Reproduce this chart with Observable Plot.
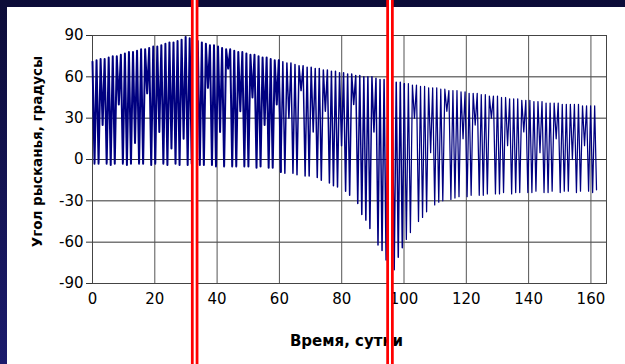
<!DOCTYPE html>
<html><head><meta charset="utf-8">
<script src="https://cdn.jsdelivr.net/npm/d3@7"></script>
<script src="https://cdn.jsdelivr.net/npm/@observablehq/plot@0.6"></script>
<style>
html,body{margin:0;padding:0;}
body{width:625px;height:364px;overflow:hidden;position:relative;background:linear-gradient(#0c0c38,#1b1b6c);}
#panel{position:absolute;left:7px;top:7px;right:0;bottom:0;background:#fff;}
#chart{position:absolute;left:0;top:0;}
</style></head><body><div id="panel"></div><div id="chart"></div>
<script>
// vertices of the yaw-angle trace (days, degrees)
const day = [
0,0.65,1.3,1.95,2.6,3.25,3.9,4.55,5.2,5.85,
6.5,7.15,7.8,8.45,9.1,9.75,10.4,11.05,11.7,12.35,
13,13.65,14.3,14.95,15.6,16.25,16.9,17.55,18.2,18.85,
19.5,20.15,20.8,21.45,22.1,22.75,23.4,24.05,24.7,25.35,
26,26.65,27.3,27.95,28.6,29.25,29.9,30.55,31.2,31.85,
32.5,33.15,33.8,34.45,35.1,35.75,36.4,37.05,37.7,38.35,
39,39.65,40.3,40.95,41.6,42.25,42.9,43.55,44.2,44.85,
45.5,46.15,46.8,47.45,48.1,48.75,49.4,50.05,50.7,51.35,
52,52.65,53.3,53.95,54.6,55.25,55.9,56.55,57.2,57.85,
58.5,59.15,59.8,60.45,61.1,61.75,62.4,63.05,63.7,64.35,
65,65.65,66.3,66.95,67.6,68.25,68.9,69.55,70.2,70.85,
71.5,72.15,72.8,73.45,74.1,74.75,75.4,76.05,76.7,77.35,
78,78.65,79.3,79.95,80.6,81.25,81.9,82.55,83.2,83.85,
84.5,85.15,85.8,86.45,87.1,87.75,88.4,89.05,89.7,90.35,
91,91.65,92.3,92.95,93.6,94.25,94.9,95.55,96.2,96.85,
97.5,98.15,98.8,99.45,100.1,100.75,101.4,102.05,102.7,103.35,
104,104.65,105.3,105.95,106.6,107.25,107.9,108.55,109.2,109.85,
110.5,111.15,111.8,112.45,113.1,113.75,114.4,115.05,115.7,116.35,
117,117.65,118.3,118.95,119.6,120.25,120.9,121.55,122.2,122.85,
123.5,124.15,124.8,125.45,126.1,126.75,127.4,128.05,128.7,129.35,
130,130.65,131.3,131.95,132.6,133.25,133.9,134.55,135.2,135.85,
136.5,137.15,137.8,138.45,139.1,139.75,140.4,141.05,141.7,142.35,
143,143.65,144.3,144.95,145.6,146.25,146.9,147.55,148.2,148.85,
149.5,150.15,150.8,151.45,152.1,152.75,153.4,154.05,154.7,155.35,
156,156.65,157.3,157.95,158.6,159.25,159.9,160.55,161.2,161.8
];
const yaw = [
71,-3, 72,-3, 73,25, 73,-3, 74,-4,
75,-3, 75,40, 76,-3, 77,-4, 78,-3,
78,12, 79,-3, 80,-3, 80,48, 81,-4,
82,-3, 82,20, 83,-3, 84,-4, 85,8,
85,-3, 86,-4, 87,15, 89,-4, 88,-3,
87,30, 86,-4, 85,-4, 84,52, 83,-4,
83,-5, 82,20, 81,-5, 80,66, 80,-5,
79,-5, 78,35, 78,-5, 77,-5, 76,45,
76,-6, 75,-5, 74,25, 74,-6, 73,-6,
72,40, 72,-9, 71,-10, 70,30, 70,-10,
69,-11, 68,50, 68,-12, 67,-12, 67,20,
66,-13, 66,-15, 65,35, 65,-17, 64,-19,
64,-20, 63,10, 63,-23, 62,-26, 62,40,
61,-32, 61,-40, 60,-44, 60,-50, 60,20,
59,-62, 58,-66, 58,-73, 57,-77, 57,-80,
56,-71, 56,-64, 55,-58, 55,-53, 54,30,
54,-45, 53,-42, 53,-38, 52,5, 52,-33,
52,-31, 51,-30, 51,35, 50,-29, 50,-28,
50,-27, 49,15, 49,-27, 48,-26, 48,25,
48,-26, 47,-26, 47,-25, 46,30, 46,-25,
46,-25, 45,-24, 45,10, 44,-25, 44,-24,
44,-24, 43,20, 43,-24, 43,-24, 42,-23,
42,5, 42,-24, 41,-24, 41,-23, 41,15,
41,-24, 40,-23, 40,-23, 40,0, 40,-24,
40,-23, 39,10, 39,-23, 39,-24, 39,-22
];
const xTicks = [0, 20, 40, 60, 80, 100, 120, 140, 160];
const yTicks = [-90, -60, -30, 0, 30, 60, 90];
const markerDays = [32.8, 95.5];
const xLabel = "Время, сутки";
const yLabel = "Угол рысканья, градусы";

const traceData = day.map((d, i) => ({day: d, yaw: yaw[i]}));
const fmt = d => String(d);

const chart = Plot.plot({
  width: 625, height: 364,
  marginLeft: 92, marginRight: 19, marginTop: 35, marginBottom: 81,
  x: {domain: [0, 165]},
  y: {domain: [-90, 90]},
  style: {background: "transparent", fontFamily: "DejaVu Sans", fontSize: "15px", color: "#000"},
  marks: [
    Plot.gridY(yTicks, {stroke: "#333", strokeOpacity: 1}),
    Plot.gridX(xTicks, {stroke: "#555", strokeOpacity: 1}),
    Plot.frame({stroke: "#444"}),
    Plot.line(traceData, {filter: d => d.day <= 60.5, x: "day", y: "yaw", stroke: "#000080", strokeWidth: 2}),
    Plot.line(traceData, {filter: d => d.day >= 59.8 && d.day <= 100.2, x: "day", y: "yaw", stroke: "#000080", strokeWidth: 1.5}),
    Plot.line(traceData, {filter: d => d.day >= 100.1, x: "day", y: "yaw", stroke: "#000080", strokeWidth: 1.25}),
    Plot.axisY(yTicks, {tickSize: 6, tickPadding: 3, label: null, stroke: "#333", fontSize: 15, tickFormat: fmt}),
    Plot.axisX(xTicks, {tickSize: 0, tickPadding: 10, label: null, fontSize: 15, tickFormat: fmt}),
    Plot.text([xLabel], {frameAnchor: "bottom", dy: 62, dx: -3, fontWeight: "bold", fontSize: 15, fontFamily: "DejaVu Sans"}),
    Plot.text([yLabel], {frameAnchor: "left", textAnchor: "middle", dx: -55, dy: -8, rotate: -90, fontWeight: "bold", fontSize: 13.5, fontFamily: "DejaVu Sans"}),
    Plot.ruleX(markerDays, {stroke: "#ff0000", strokeWidth: 7.5, insetTop: -40, insetBottom: -90}),
    Plot.ruleX(markerDays, {stroke: "#ffffff", strokeWidth: 2, insetTop: -40, insetBottom: -90})
  ]
});
document.getElementById("chart").appendChild(chart);
</script>
</body></html>
